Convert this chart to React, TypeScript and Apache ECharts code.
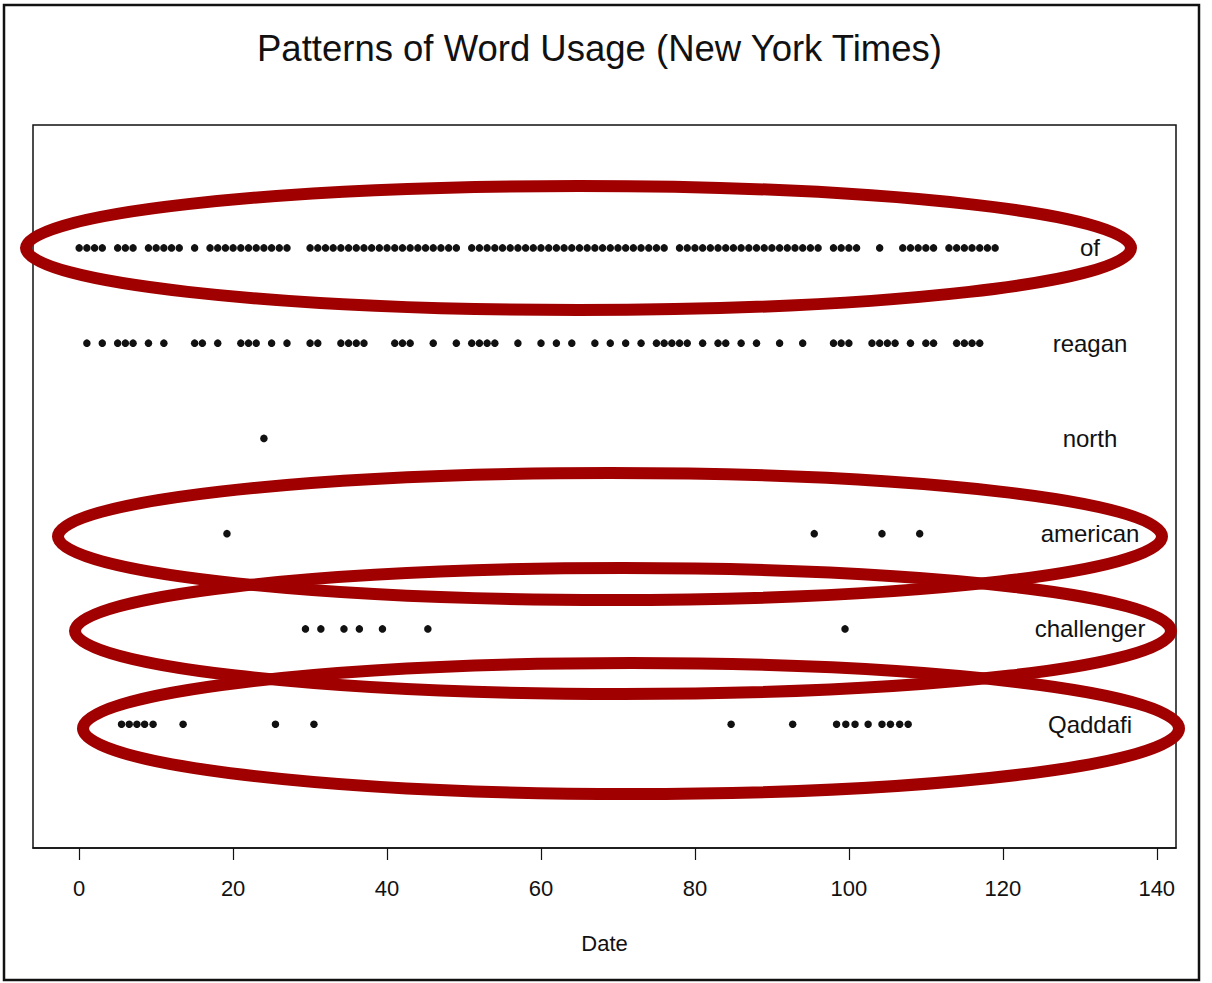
import React, { useEffect, useRef } from "react";
import * as echarts from "echarts";

const TITLE = "Patterns of Word Usage (New York Times)";
const X_NAME = "Date";
const words = ["Qaddafi", "challenger", "american", "north", "reagan", "of"];
const xTicks = [0, 20, 40, 60, 80, 100, 120, 140];

const ofDays = [
  0, 1, 2, 3, 5, 6, 7, 9, 10, 11, 12, 13, 15, 17, 18, 19, 20, 21, 22, 23, 24, 25, 26, 27,
  30, 31, 32, 33, 34, 35, 36, 37, 38, 39, 40, 41, 42, 43, 44, 45, 46, 47, 48, 49,
  51, 52, 53, 54, 55, 56, 57, 58, 59, 60, 61, 62, 63, 64, 65, 66, 67, 68, 69, 70, 71, 72, 73, 74, 75, 76,
  78, 79, 80, 81, 82, 83, 84, 85, 86, 87, 88, 89, 90, 91, 92, 93, 94, 95, 96,
  98, 99, 100, 101, 104, 107, 108, 109, 110, 111, 113, 114, 115, 116, 117, 118, 119,
];
const reaganDays = [
  1, 3, 5, 6, 7, 9, 11, 15, 16, 18, 21, 22, 23, 25, 27, 30, 31, 34, 35, 36, 37, 41, 42, 43,
  46, 49, 51, 52, 53, 54, 57, 60, 62, 64, 67, 69, 71, 73, 75, 76, 77, 78, 79, 81, 83, 84,
  86, 88, 91, 94, 98, 99, 100, 103, 104, 105, 106, 108, 110, 111, 114, 115, 116, 117,
];
const northDays = [24];
const americanDays = [19.2, 95.5, 104.3, 109.2];
const challengerDays = [29.4, 31.4, 34.4, 36.4, 39.4, 45.3, 99.5];
const qaddafiDays = [5.5, 6.5, 7.5, 8.5, 9.6, 13.5, 25.5, 30.5, 84.7, 92.7, 98.4, 99.6, 100.8, 102.5, 104.3, 105.4, 106.6, 107.7];

const rows: { word: string; days: number[] }[] = [
  { word: "Qaddafi", days: qaddafiDays },
  { word: "challenger", days: challengerDays },
  { word: "american", days: americanDays },
  { word: "north", days: northDays },
  { word: "reagan", days: reaganDays },
  { word: "of", days: ofDays },
];

const FONT = "'Liberation Sans', Arial, Helvetica, sans-serif";
const INK = "#111111";
const RED = "#a10000";

export default function App() {
  const ref = useRef<HTMLDivElement>(null);
  useEffect(() => {
    document.body.style.margin = "0";
    const chart = echarts.init(ref.current!, undefined, { renderer: "svg" });
    const ellipses = [
      { cx: 578.5, cy: 248, rx: 552.5, ry: 62 },
      { cx: 610, cy: 536.5, rx: 552, ry: 63.5 },
      { cx: 623, cy: 631, rx: 548, ry: 63 },
      { cx: 631, cy: 728.5, rx: 548, ry: 65.5 },
    ];
    chart.setOption({
      animation: false,
      backgroundColor: "#ffffff",
      title: {
        text: TITLE,
        left: 252,
        top: 25,
        textStyle: { fontFamily: FONT, fontSize: 36.5, fontWeight: "normal", color: INK },
      },
      grid: {
        left: 33,
        top: 125,
        width: 1143,
        height: 723,
        show: true,
        borderColor: INK,
        borderWidth: 1.5,
        backgroundColor: "transparent",
      },
      xAxis: {
        type: "value",
        min: -6,
        max: 142.5,
        name: X_NAME,
        nameLocation: "middle",
        nameGap: 84,
        nameTextStyle: { fontFamily: FONT, fontSize: 22, color: INK },
        axisLine: { show: true, onZero: false, lineStyle: { color: INK, width: 1.5 } },
        axisTick: { show: true, customValues: xTicks, length: 12, lineStyle: { color: INK, width: 1.2 } },
        axisLabel: { customValues: xTicks, fontFamily: FONT, fontSize: 22, color: INK, margin: 29 },
        splitLine: { show: false },
      },
      yAxis: {
        type: "value",
        min: -1.3,
        max: 6.29,
        position: "right",
        axisLine: { show: false },
        axisTick: { show: false },
        splitLine: { show: false },
        axisLabel: {
          inside: true,
          customValues: [0, 1, 2, 3, 4, 5],
          formatter: (v: number) => words[Math.round(v)] ?? "",
          fontFamily: FONT,
          fontSize: 24,
          color: INK,
          align: "center",
          margin: 86,
          padding: [0, 0, 22, 0],
        },
      },
      series: rows.map((r, i) => ({
        type: "scatter",
        name: r.word,
        symbol: "circle",
        symbolSize: 7.5,
        itemStyle: { color: INK, opacity: 1 },
        data: r.days.map((d) => [d, i]),
      })),
      graphic: [
        {
          type: "rect",
          shape: { x: 4, y: 5, width: 1195, height: 975 },
          style: { fill: "none", stroke: INK, lineWidth: 2.5 },
          z: 100,
        },
        ...ellipses.map((e) => ({
          type: "ellipse",
          shape: e,
          style: { fill: "none", stroke: RED, lineWidth: 12 },
          z: 200,
        })),
      ],
    });
    return () => chart.dispose();
  }, []);
  return <div ref={ref} style={{ width: 1212, height: 983 }} />;
}
